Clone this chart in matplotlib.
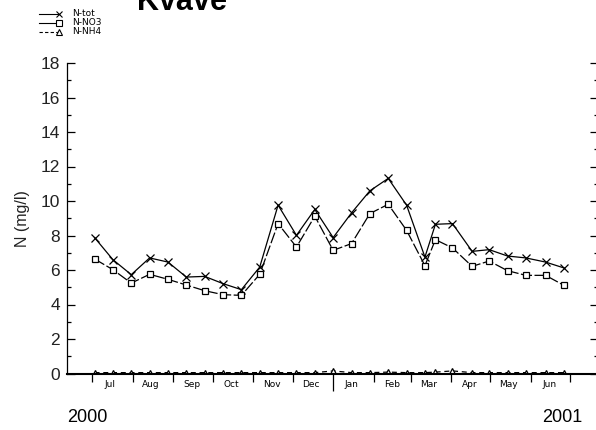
import numpy as np
import pandas as pd
import matplotlib
matplotlib.use("Agg")
import matplotlib.pyplot as plt
import matplotlib.dates as mdates
from matplotlib.lines import Line2D
from matplotlib.ticker import FixedLocator, FixedFormatter, MultipleLocator

plt.rcParams['font.family'] = ['Liberation Sans', 'DejaVu Sans']

# sample dates (biweekly)
dates = pd.to_datetime([
    "2000-07-03", "2000-07-17", "2000-07-31", "2000-08-14", "2000-08-28",
    "2000-09-11", "2000-09-25", "2000-10-09", "2000-10-23", "2000-11-06",
    "2000-11-20", "2000-12-04", "2000-12-18", "2001-01-01", "2001-01-15",
    "2001-01-29", "2001-02-12", "2001-02-26", "2001-03-12", "2001-03-20",
    "2001-04-02", "2001-04-17", "2001-04-30", "2001-05-14", "2001-05-28",
    "2001-06-12", "2001-06-26"])

n_tot = [7.88, 6.60, 5.73, 6.70, 6.46, 5.59, 5.63, 5.21, 4.86, 6.17,
         9.76, 8.01, 9.51, 7.88, 9.31, 10.59, 11.31, 9.76, 6.75, 8.65,
         8.69, 7.08, 7.18, 6.81, 6.70, 6.46, 6.12]
n_no3 = [6.64, 6.02, 5.24, 5.75, 5.46, 5.13, 4.80, 4.57, 4.53, 5.75,
         8.69, 7.33, 9.12, 7.14, 7.53, 9.27, 9.81, 8.30, 6.25, 7.76,
         7.28, 6.21, 6.52, 5.96, 5.69, 5.69, 5.11]
n_nh4 = [0.05, 0.05, 0.05, 0.05, 0.05, 0.05, 0.05, 0.05, 0.05, 0.05,
         0.05, 0.05, 0.05, 0.15, 0.05, 0.05, 0.08, 0.05, 0.05, 0.08,
         0.15, 0.05, 0.05, 0.05, 0.05, 0.05, 0.05]

month_labels = ["Jul", "Aug", "Sep", "Oct", "Nov", "Dec",
                "Jan", "Feb", "Mar", "Apr", "May", "Jun"]
series_labels = ["N-tot", "N-NO3", "N-NH4"]

W, H = 596, 430
fig = plt.figure(figsize=(W / 100, H / 100), dpi=100)
ax = fig.add_axes([67 / W, (H - 373.5) / H, (598 - 67) / W, (373.5 - 63) / H])

ax.plot(dates, n_tot, color='black', lw=0.9, marker='x', ms=6, mew=0.9)
ax.plot(dates, n_no3, color='black', lw=0.9, dashes=(9, 2), marker='s', ms=5,
        mfc='white', mew=0.9)
ax.plot(dates, n_nh4, color='black', lw=0.9, dashes=(4, 3), marker='^', ms=5,
        mfc='white', mew=0.9)

ax.set_xlim(pd.Timestamp("2000-06-12"), pd.Timestamp("2001-07-22"))
ax.set_ylim(0, 18)

# y axis
ax.yaxis.set_major_locator(MultipleLocator(2))
ax.yaxis.set_minor_locator(MultipleLocator(1))
ax.tick_params(axis='y', which='major', direction='in', length=6, width=0.9,
               left=True, right=True, labelsize=12.5, pad=5, labelcolor='#222222')
ax.tick_params(axis='y', which='minor', direction='in', length=3, width=0.9,
               left=True, right=True)
ax.set_ylabel("N (mg/l)", fontsize=11.5, labelpad=8, color='#222222')

# x axis: month boundaries as major ticks, month names in between
month_starts = pd.date_range("2000-07-01", "2001-07-01", freq="MS")
month_mids = month_starts[:-1] + pd.Timedelta(days=14)
ax.xaxis.set_major_locator(FixedLocator(mdates.date2num(month_starts)))
ax.xaxis.set_major_formatter(FixedFormatter([""] * len(month_starts)))
ax.xaxis.set_minor_locator(FixedLocator(mdates.date2num(month_mids)))
ax.xaxis.set_minor_formatter(FixedFormatter(month_labels))
ax.tick_params(axis='x', which='major', direction='out', length=5.5, width=0.9)
ax.tick_params(axis='x', which='minor', length=0, labelsize=6.5, pad=5)
for lab in ax.xaxis.get_minorticklabels():
    lab.set_family('DejaVu Sans')
for t, d in zip(ax.xaxis.get_major_ticks(), month_starts):
    if d.month == 1:
        t.tick1line.set_markersize(12)

ax.spines['top'].set_visible(False)
ax.spines['right'].set_visible(False)
ax.spines['left'].set_linewidth(0.9)
ax.spines['bottom'].set_linewidth(1.5)

# year labels
fig.text(87 / W, 1 - 417 / H, "2000", ha='center', va='center', fontsize=13)
fig.text(562 / W, 1 - 417 / H, "2001", ha='center', va='center', fontsize=13)

# title, partly cut at the top
fig.text(182 / W, 1 - 10 / H, "Kväve", ha='center', va='baseline',
         fontsize=22, fontweight='bold')

# legend in the upper left corner
leg_styles = [dict(ls='-', marker='x'), dict(ls='-', marker='s'),
              dict(ls='--', marker='^')]
for i, (lab, st) in enumerate(zip(series_labels, leg_styles)):
    y = 1 - (13.5 + i * 9) / H
    fig.add_artist(Line2D([39 / W, 58 / W], [y, y], transform=fig.transFigure,
                          color='black', lw=0.8, ls=st['ls'],
                          dashes=(3, 2) if st['ls'] == '--' else (None, None)))
    fig.add_artist(Line2D([59 / W], [y], transform=fig.transFigure,
                          color='black', marker=st['marker'], ms=4, mfc='white',
                          mew=0.8, ls='none'))
    fig.text(72 / W, y, lab, fontsize=6.5, va='center', family='DejaVu Sans')

fig.savefig("out.png", dpi=100)
